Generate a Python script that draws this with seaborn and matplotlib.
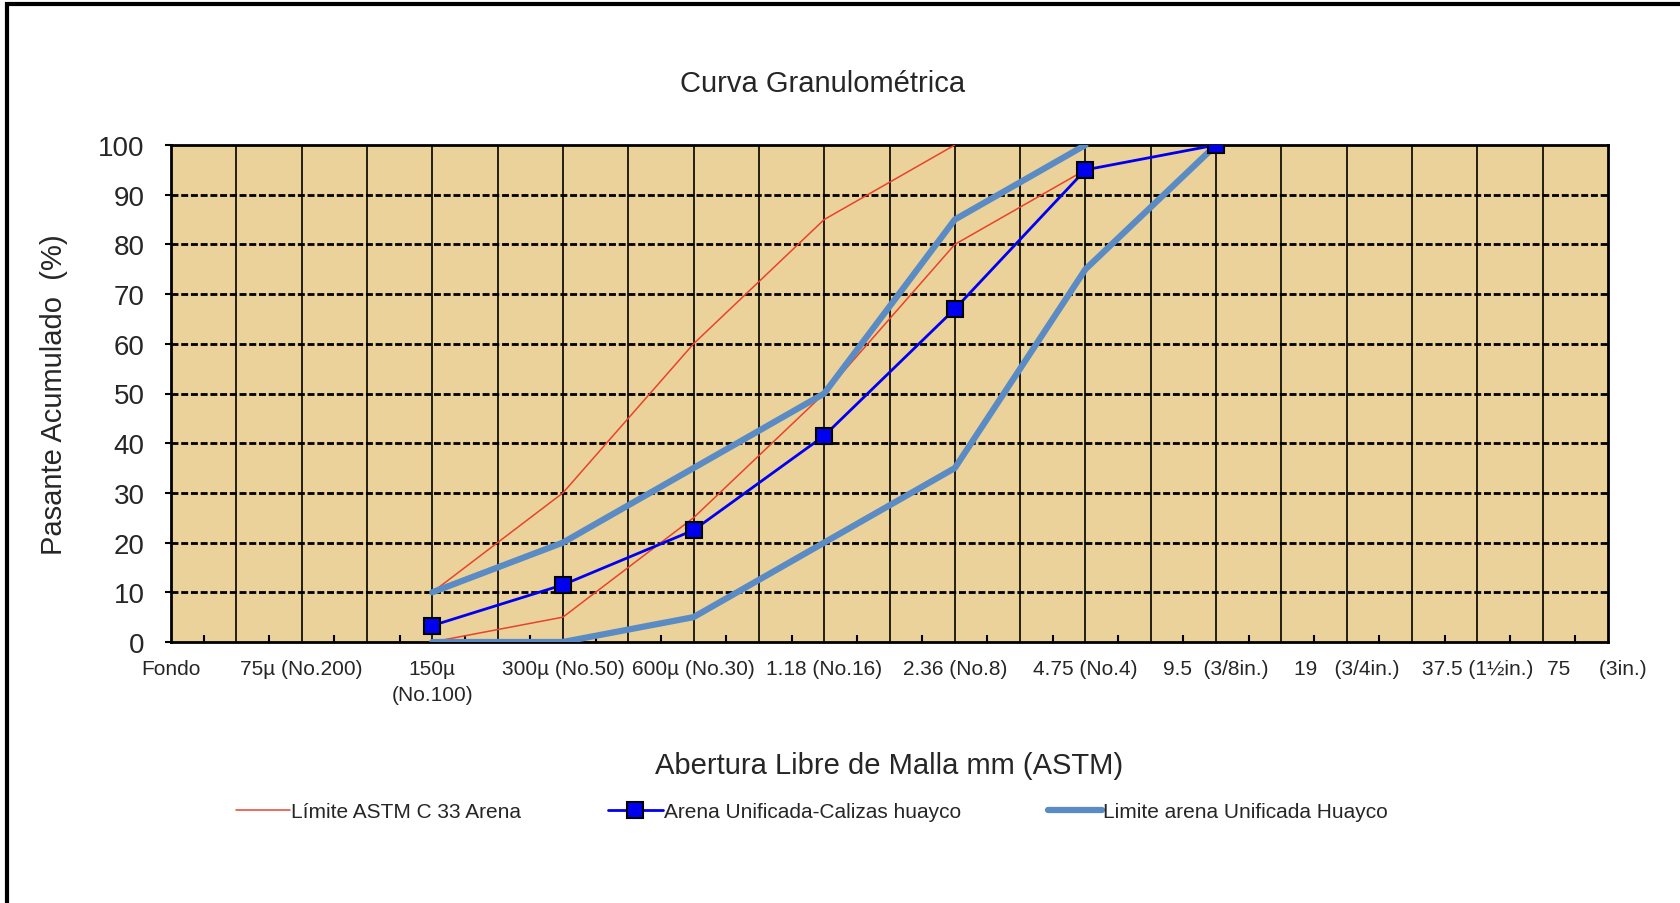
import numpy as np
import pandas as pd
import matplotlib
matplotlib.use("Agg")
import matplotlib.pyplot as plt
import seaborn as sns
from matplotlib.patches import Rectangle

# ---- data ----
sieve_labels = ["Fondo", "75µ (No.200)", "150µ\n(No.100)", "300µ (No.50)", "600µ (No.30)",
                "1.18 (No.16)", "2.36 (No.8)", "4.75 (No.4)", "9.5  (3/8in.)",
                "19   (3/4in.)", "37.5 (1½in.)", "75     (3in.)    "]
sieve_pos = list(range(len(sieve_labels)))

astm_upper_x = [2, 3, 4, 5, 6]
astm_upper_y = [10, 30, 60, 85, 100]
astm_lower_x = [2, 3, 4, 5, 6, 7, 8]
astm_lower_y = [0, 5, 25, 50, 80, 95, 100]

arena_x = [2, 3, 4, 5, 6, 7, 8]
arena_y = [3.3, 11.5, 22.5, 41.5, 67.0, 95.0, 100.0]

huayco_upper_x = [2, 3, 4, 5, 6, 7]
huayco_upper_y = [10, 20, 35, 50, 85, 100]
huayco_lower_x = [2, 3, 4, 5, 6, 7, 8]
huayco_lower_y = [0, 0, 5, 20, 35, 75, 100]

y_ticks = [0, 10, 20, 30, 40, 50, 60, 70, 80, 90, 100]

# ---- style ----
sns.set_theme(style="white")
plt.rcParams['font.family'] = ['Liberation Sans', 'DejaVu Sans']

fig = plt.figure(figsize=(16.81, 9.04), dpi=100)
ax = fig.add_axes([171/1681, 1-643/904, (1608-171)/1681, (643-146)/904])
ax.set_facecolor("#EBD29A")

red = "#E8432B"
blue = "#0000F0"
steel = "#5B8BC4"

def seg(x, y, **kw):
    df = pd.DataFrame({"x": x, "y": y})
    sns.lineplot(data=df, x="x", y="y", ax=ax, sort=False, estimator=None, **kw)

seg(astm_upper_x, astm_upper_y, color=red, linewidth=1.1, label="Límite ASTM C 33 Arena", zorder=3)
seg(astm_lower_x, astm_lower_y, color=red, linewidth=1.1, zorder=3)
seg(huayco_upper_x, huayco_upper_y, color=steel, linewidth=4.5, zorder=4)
seg(huayco_lower_x, huayco_lower_y, color=steel, linewidth=4.5, zorder=4)
seg(arena_x, arena_y, color=blue, linewidth=2, marker="s", markersize=11,
    markerfacecolor=blue, markeredgecolor="black", markeredgewidth=1.5,
    label="Arena Unificada-Calizas huayco", zorder=5)
ax.plot([], [], color=steel, linewidth=4.5, label="Limite arena Unificada Huayco")

ax.set_xlim(0, 11)
ax.set_ylim(0, 100)

# grid
for xv in np.arange(0.5, 11, 0.5):
    ax.axvline(xv, color="black", linewidth=1.2, zorder=1)
for yv in y_ticks[1:-1]:
    ax.axhline(yv, color="black", linewidth=2.0, linestyle=(0, (2.5, 1)), zorder=1)

ax.set_xticks(sieve_pos)
ax.set_xticklabels(sieve_labels, fontsize=15, va="top", linespacing=1.5)
ax.set_xticks(np.arange(0.25, 11, 0.5), minor=True)
ax.tick_params(axis="x", which="major", length=0, pad=12)
ax.tick_params(axis="x", which="minor", direction="in", length=5, width=1.5, color="black", bottom=True)
ax.set_yticks(y_ticks)
ax.set_yticklabels([str(v) for v in y_ticks], fontsize=20)
ax.tick_params(axis="y", which="major", direction="out", length=4, width=1.5, color="black", left=True, pad=15)

for s in ax.spines.values():
    s.set_color("black")
    s.set_linewidth(2)
    s.set_visible(True)

ax.set_xlabel("Abertura Libre de Malla mm (ASTM)", fontsize=21, labelpad=34)
ax.set_ylabel("Pasante Acumulado  (%)", fontsize=21, labelpad=22)
fig.text(823/1681, 1 - 84/904, "Curva Granulométrica", fontsize=21, ha="center", va="center")

ax.legend(loc="center", bbox_to_anchor=(0.446, -0.342), ncol=3, frameon=False,
          fontsize=15, handlelength=2.6, handletextpad=0.05, columnspacing=4.2)

fig.patches.append(Rectangle((7/1681, -0.1), 1.2, 1 - 5/904 + 0.1, transform=fig.transFigure,
                             fill=False, edgecolor="black", linewidth=3))

fig.savefig("out.png", dpi=100, facecolor="white")
